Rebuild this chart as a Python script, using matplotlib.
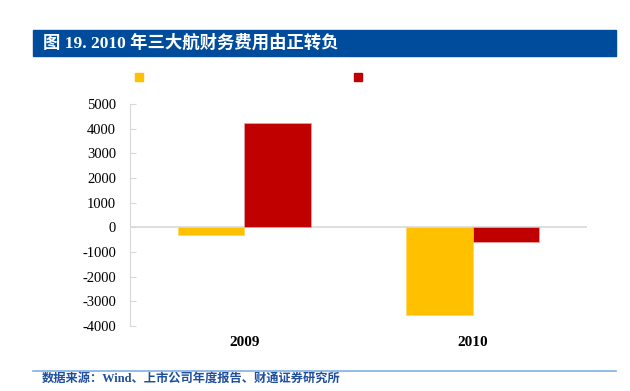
import matplotlib.pyplot as plt
import numpy as np
from matplotlib.patches import Rectangle

# data
years = ['2009', '2010']
series_a = [-320, -3560]   # yellow
series_b = [4250, -590]    # red
yticks = [-4000, -3000, -2000, -1000, 0, 1000, 2000, 3000, 4000, 5000]

plt.rcParams['font.family'] = ['Liberation Serif', 'Noto Sans CJK SC']

fig = plt.figure(figsize=(6.3, 3.91), dpi=100)

# title band
fig.patches.append(Rectangle((33 / 630, 1 - 56 / 391), 583 / 630, 26 / 391,
                             transform=fig.transFigure, color='#004C9C', zorder=0))
fig.text(43 / 630, 1 - 43 / 391, '图 19. 2010 年三大航财务费用由正转负', color='white',
         fontsize=12.5, fontweight='bold', va='center', ha='left')

# legend squares (no labels in the original)
fig.patches.append(Rectangle((135 / 630, 1 - 81 / 391), 8 / 630, 8 / 391,
                             transform=fig.transFigure, color='#FFC000'))
fig.patches.append(Rectangle((354 / 630, 1 - 81 / 391), 8 / 630, 8 / 391,
                             transform=fig.transFigure, color='#C00000'))

ax = fig.add_axes([130 / 630, 1 - 326 / 391, 457 / 630, 222 / 391])
x = np.arange(len(years))
w = 0.29
ax.bar(x - w / 2, series_a, width=w, color='#FFC000', edgecolor='#FFD966', linewidth=0.6, zorder=2)
ax.bar(x + w / 2, series_b, width=w, color='#C00000', edgecolor='#E8A0A0', linewidth=0.6, zorder=2)

ax.set_xlim(-0.5, 1.5)
ax.set_ylim(-4000, 5000)
ax.set_yticks(yticks)
ax.set_yticklabels([str(v) for v in yticks], fontsize=10.5)
ax.axhline(0, color='#D9D9D9', linewidth=1.2, zorder=1)
ax.set_xticks([])
for i, y in enumerate(years):
    ax.text(i, -4400, y, ha='center', va='top', fontsize=11, fontweight='bold')

for s in ['top', 'right', 'bottom']:
    ax.spines[s].set_visible(False)
ax.spines['left'].set_color('#D9D9D9')
ax.tick_params(axis='y', direction='in', length=4, color='#D9D9D9', pad=10)

# source line
fig.lines.append(plt.Line2D([33 / 630, 616 / 630], [1 - 371 / 391] * 2,
                            transform=fig.transFigure, color='#7FB2E5', linewidth=1.2))
fig.text(42 / 630, 1 - 379 / 391, '数据来源：Wind、上市公司年度报告、财通证券研究所', color='#1F4E9C',
         fontsize=8.8, fontweight='bold', va='center', ha='left')

fig.savefig('out.png', dpi=100)
